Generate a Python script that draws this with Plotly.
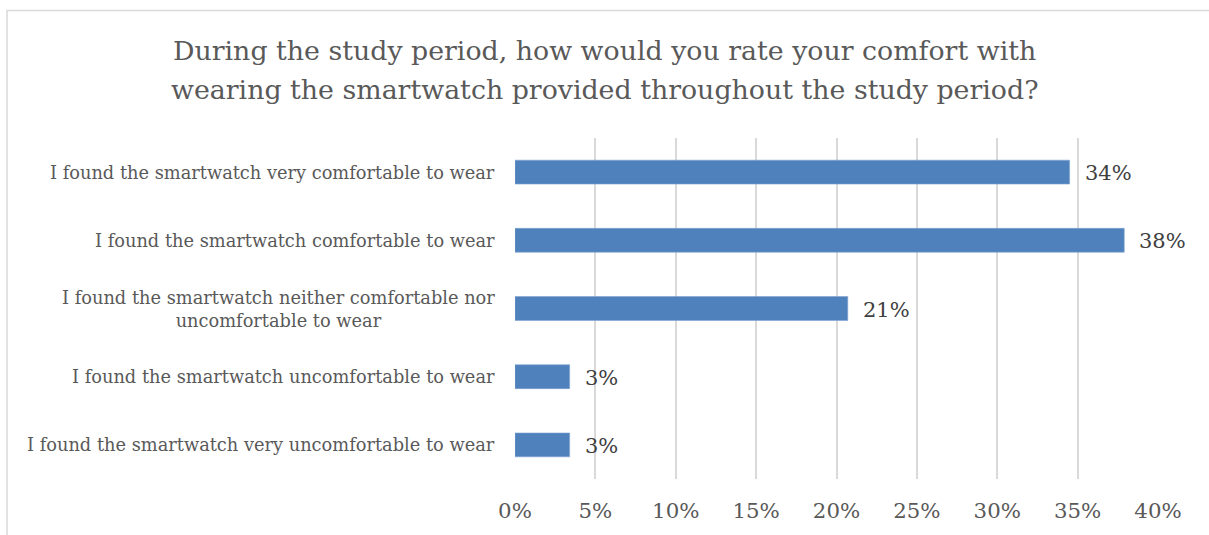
import plotly.graph_objects as go

categories = [
    "I found the smartwatch very comfortable to wear",
    "I found the smartwatch comfortable to wear",
    "I found the smartwatch neither comfortable nor<br>uncomfortable to wear",
    "I found the smartwatch uncomfortable to wear",
    "I found the smartwatch very uncomfortable to wear",
]
values = [34.5, 37.9, 20.7, 3.4, 3.4]
labels = ["34%", "38%", "21%", "3%", "3%"]
tick_vals = [0, 5, 10, 15, 20, 25, 30, 35, 40]
tick_text = ["0%", "5%", "10%", "15%", "20%", "25%", "30%", "35%", "40%"]
title_lines = [
    "During the study period, how would you rate your comfort with",
    "wearing the smartwatch provided throughout the study period?",
]

W, H = 1209, 535
ML, MR, MT, MB = 515, 51, 138, 56
FONT = "DejaVu Serif"
GRAY = "#595959"

ypos = list(range(len(categories)))
pw = W - ML - MR
ph = H - MT - MB

def py(pix):
    return (H - MB - pix) / ph

fig = go.Figure()
fig.add_trace(go.Bar(
    x=values, y=ypos, orientation="h",
    marker=dict(color="#4F81BD", line=dict(color="#7FA3D1", width=0.6)),
    width=0.35, hoverinfo="skip",
))

for yv, xv, t in zip(ypos, values, labels):
    fig.add_annotation(x=xv, y=yv, text=t, showarrow=False, xanchor="left",
                       xshift=13, yshift=-1, font=dict(family=FONT, size=21, color="#404040"))

for yv, c in zip(ypos, categories):
    fig.add_annotation(x=0, y=yv, xref="paper", text=c, showarrow=False, xanchor="right",
                       align="center", xshift=-18, font=dict(family=FONT, size=17.8, color=GRAY))

for pix, t in zip([50, 90], title_lines):
    fig.add_annotation(x=(W / 2 - ML) / pw, y=py(pix), xref="paper", yref="paper", text=t,
                       showarrow=False, xanchor="center", yanchor="middle",
                       font=dict(family=FONT, size=26.8, color=GRAY))

fig.add_shape(type="rect", xref="paper", yref="paper",
              x0=(7 - ML) / pw, x1=(W + 20 - ML) / pw,
              y0=py(H + 20), y1=py(10.5),
              line=dict(color="#D9D9D9", width=1.5), layer="below")

fig.update_layout(
    width=W, height=H,
    margin=dict(l=ML, r=MR, t=MT, b=MB),
    paper_bgcolor="white", plot_bgcolor="white",
    showlegend=False,
    xaxis=dict(range=[0, 40], tickvals=tick_vals, ticktext=tick_text, showgrid=True,
               gridcolor="#D9D9D9", gridwidth=1.5, zeroline=False, showline=False,
               ticks="", tickfont=dict(family=FONT, size=21.3, color=GRAY), ticklabelstandoff=17),
    yaxis=dict(range=[len(categories) - 0.5, -0.5], showticklabels=False, showgrid=False,
               zeroline=False, showline=False, ticks=""),
)

fig.write_html("out.html")
